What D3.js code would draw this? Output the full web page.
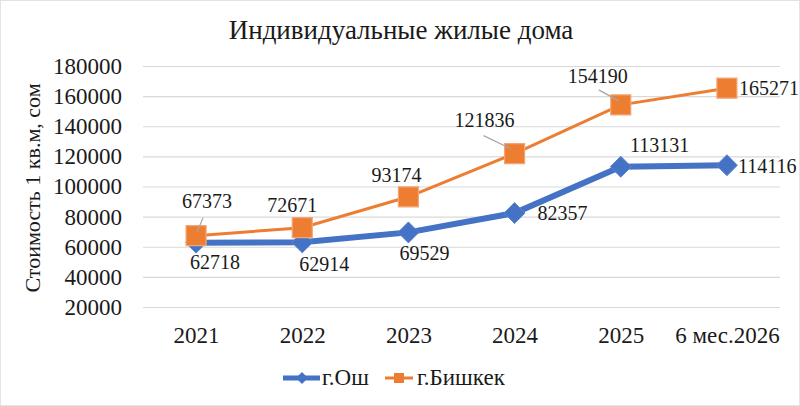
<!DOCTYPE html>
<html>
<head>
<meta charset="utf-8">
<script src="https://cdn.jsdelivr.net/npm/d3@7"></script>
<style>
  body { margin: 0; background: #fff; }
  svg text { font-family: "Liberation Serif", serif; fill: #1a1a1a; }
</style>
</head>
<body>
<svg id="chart" width="800" height="406"></svg>
<script>
// данные
var categories = ["2021", "2022", "2023", "2024", "2025", "6 мес.2026"];
var osh = [62718, 62914, 69529, 82357, 113131, 114116];
var bishkek = [67373, 72671, 93174, 121836, 154190, 165271];
var yTicks = [20000, 40000, 60000, 80000, 100000, 120000, 140000, 160000, 180000];

// смещения подписей относительно маркеров [dx, dy, anchor]
var oshLabelPos = [[19, 26, "middle"], [22, 29, "middle"], [16, 28, "middle"], [23, 7, "start"], [39, -15, "middle"], [11, 8, "start"]];
var bishLabelPos = [[11, -28, "middle"], [-10, -16, "middle"], [-12, -15, "middle"], [-30, -27, "middle"], [-23, -22, "middle"], [12, 7, "start"]];
// выноски [x1, y1, x2, y2] относительно маркера
var bishLeaders = [[7, -18, 1, -4], null, null, [-31, -18, -4, -5], [-22, -15, -2, -4], null];

var svg = d3.select("#chart"),
    W = 800, H = 406,
    margin = {top: 66, right: 20, bottom: 99, left: 143},
    width = W - margin.left - margin.right,
    height = H - margin.top - margin.bottom;

var blue = "#4472C4", orange = "#ED7D31";
var serif = "Liberation Serif, serif";

svg.append("rect").attr("x", 0.5).attr("y", 0.5).attr("width", W - 1).attr("height", H - 1)
    .attr("fill", "#fff").attr("stroke", "#e3e3e3");

var x = d3.scalePoint().domain(categories).range([0, width]).padding(0.5);
var y = d3.scaleLinear().domain([20000, 180000]).range([height, 0]);

var g = svg.append("g").attr("transform", "translate(" + margin.left + "," + margin.top + ")");

// сетка
g.append("g")
    .call(d3.axisLeft(y).tickValues(yTicks).tickSize(-width).tickFormat(""))
    .call(function(a) {
        a.select(".domain").remove();
        a.selectAll("line").attr("stroke", "#d9d9d9").attr("stroke-width", 1.2);
    });

// ось Y
g.append("g")
    .call(d3.axisLeft(y).tickValues(yTicks).tickSize(0).tickPadding(21).tickFormat(d3.format("d")))
    .call(function(a) {
        a.attr("font-family", serif);
        a.select(".domain").remove();
        a.selectAll("text").attr("font-size", 23).attr("fill", "#1a1a1a");
    });

// ось X
g.append("g")
    .attr("transform", "translate(0," + height + ")")
    .call(d3.axisBottom(x).tickSize(0).tickPadding(20))
    .call(function(a) {
        a.attr("font-family", serif);
        a.select(".domain").remove();
        a.selectAll("text").attr("font-size", 23).attr("fill", "#1a1a1a");
    });

// заголовки
svg.append("text")
    .attr("x", 401).attr("y", 39)
    .attr("text-anchor", "middle")
    .attr("font-family", serif)
    .attr("font-size", 27)
    .text("Индивидуальные жилые дома");

svg.append("text")
    .attr("transform", "translate(40," + 188 + ") rotate(-90)")
    .attr("text-anchor", "middle")
    .attr("font-family", serif)
    .attr("font-size", 22)
    .text("Стоимость 1 кв.м, сом");

var line = d3.line()
    .x(function(d, i) { return x(categories[i]); })
    .y(function(d) { return y(d); });

// г.Бишкек
g.append("path").datum(bishkek)
    .attr("fill", "none").attr("stroke", orange).attr("stroke-width", 3)
    .attr("d", line);

// г.Ош
g.append("path").datum(osh)
    .attr("fill", "none").attr("stroke", blue).attr("stroke-width", 6)
    .attr("d", line);

var diamond = d3.symbol().type(d3.symbolDiamond2);
var square = d3.symbol().type(d3.symbolSquare);

g.selectAll(".m-osh").data(osh).enter().append("path")
    .attr("class", "m-osh")
    .attr("transform", function(d, i) { return "translate(" + x(categories[i]) + "," + y(d) + ")"; })
    .attr("d", diamond.size(280)())
    .attr("fill", blue).attr("stroke", "#5b85cf").attr("stroke-width", 1);

g.selectAll(".m-bish").data(bishkek).enter().append("path")
    .attr("class", "m-bish")
    .attr("transform", function(d, i) { return "translate(" + x(categories[i]) + "," + y(d) + ")"; })
    .attr("d", square.size(400)())
    .attr("fill", orange).attr("stroke", "#f2a677").attr("stroke-width", 1.2);

// выноски
bishkek.forEach(function(d, i) {
    var l = bishLeaders[i];
    if (!l) return;
    var cx = x(categories[i]), cy = y(d);
    g.append("line")
        .attr("x1", cx + l[0]).attr("y1", cy + l[1])
        .attr("x2", cx + l[2]).attr("y2", cy + l[3])
        .attr("stroke", "#a6a6a6").attr("stroke-width", 1.2);
});

// подписи
function labels(data, pos) {
    g.append("g").selectAll("text").data(data).enter().append("text")
        .attr("x", function(d, i) { return x(categories[i]) + pos[i][0]; })
        .attr("y", function(d, i) { return y(d) + pos[i][1]; })
        .attr("text-anchor", function(d, i) { return pos[i][2]; })
        .attr("font-family", serif)
        .attr("font-size", 20)
        .text(function(d) { return d; });
}
labels(osh, oshLabelPos);
labels(bishkek, bishLabelPos);

// легенда
var legend = svg.append("g").attr("transform", "translate(0,378)").attr("font-family", serif);
legend.append("line").attr("x1", 283).attr("x2", 320).attr("stroke", blue).attr("stroke-width", 5);
legend.append("path").attr("transform", "translate(302,0)").attr("d", diamond.size(90)()).attr("fill", blue);
legend.append("text").attr("x", 322).attr("y", 7).attr("font-size", 23).text("г.Ош");
legend.append("line").attr("x1", 385).attr("x2", 413).attr("stroke", orange).attr("stroke-width", 3);
legend.append("path").attr("transform", "translate(399,0)").attr("d", square.size(100)()).attr("fill", orange);
legend.append("text").attr("x", 417).attr("y", 7).attr("font-size", 23).text("г.Бишкек");
</script>
</body>
</html>
